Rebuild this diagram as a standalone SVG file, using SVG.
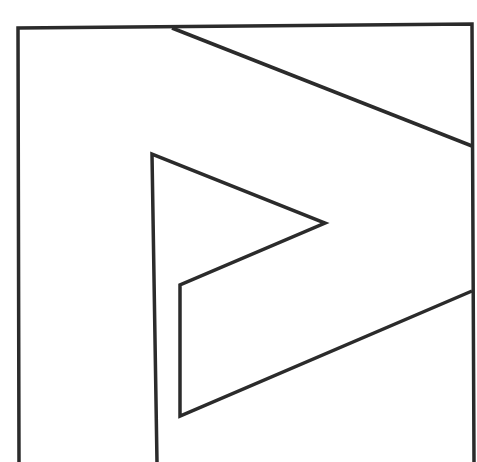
<svg xmlns="http://www.w3.org/2000/svg" width="477" height="462" viewBox="0 0 477 462">
<style>.l{fill:none;stroke:#2b2b2b;stroke-width:3.5;stroke-linejoin:miter;stroke-linecap:butt}</style>
<rect width="477" height="462" fill="#fff"/>
<g id="frame"><polyline class="l" points="19,462 18,28 472,24 474,462"/></g>
<g id="diagonal"><polyline class="l" points="172,28 472,146"/></g>
<g id="flag"><polyline class="l" points="157,462 152,154 325,223 180,285 180,416 472,291"/></g>
</svg>
